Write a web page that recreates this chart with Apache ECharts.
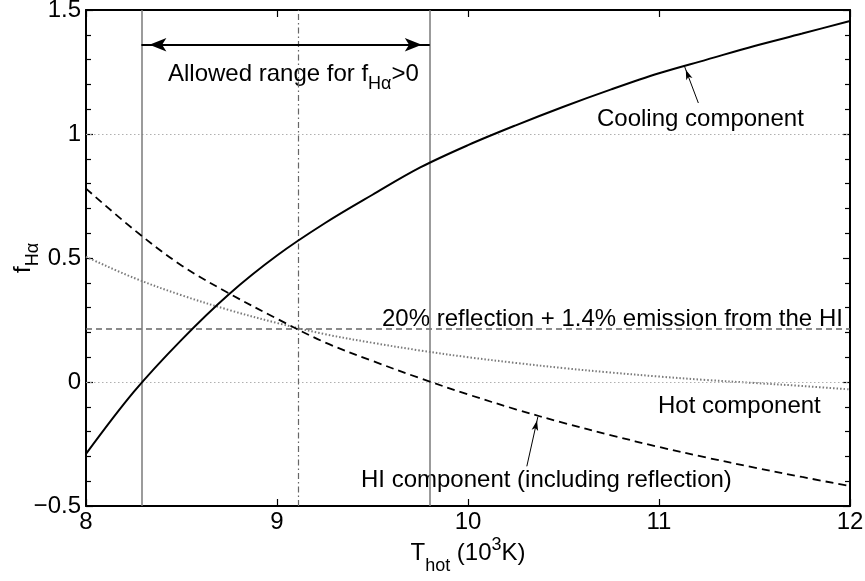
<!DOCTYPE html>
<html><head><meta charset="utf-8">
<script src="https://cdn.jsdelivr.net/npm/echarts@6/dist/echarts.min.js"></script>
<style>html,body{margin:0;padding:0;background:#fff}#c{width:865px;height:581px}</style>
</head><body><div id="c"></div>
<script>
// ---- data ----
const T = [8.00, 8.25, 8.50, 8.75, 9.00, 9.25, 9.50, 9.75, 10.00, 10.25, 10.50, 10.75, 11.00, 11.25, 11.50, 11.75, 12.00];
const cooling = [-0.29, -0.04, 0.17, 0.355, 0.51, 0.64, 0.755, 0.865, 0.955, 1.035, 1.11, 1.18, 1.245, 1.30, 1.355, 1.405, 1.456];
const hiComp  = [0.78, 0.615, 0.47, 0.357, 0.255, 0.16, 0.085, 0.015, -0.05, -0.11, -0.165, -0.215, -0.262, -0.305, -0.345, -0.383, -0.42];
const hotComp = [0.505, 0.42, 0.35, 0.29, 0.238, 0.193, 0.158, 0.127, 0.10, 0.077, 0.056, 0.038, 0.022, 0.008, -0.004, -0.016, -0.03];
const allowedRange = [8.29, 9.80];
const crossT = 9.11;
const reflectionLevel = 0.215;
const gridLevels = [0, 1];
const arrowLevel = 1.36;
const xTicks = [8, 9, 10, 11, 12];
const yTicks = [-0.5, 0, 0.5, 1, 1.5];

const FONT = "'Liberation Sans', Arial, Helvetica, sans-serif";
const FS = 24;
const SFS = 18;
const chart = echarts.init(document.getElementById('c'), null, {renderer: 'canvas'});

const pairs = arr => T.map((t, i) => [t, arr[i]]);
const fmtNum = v => String(v).replace('-', '\u2212');

const markLines = [];
// gridlines at 0 and 1
gridLevels.forEach(g => markLines.push([
  {coord: [xTicks[0], g], symbol: 'none', lineStyle: {color: '#b0b0b0', width: 1, type: [1.5, 2.5]}},
  {coord: [xTicks[xTicks.length - 1], g], symbol: 'none'}
]));
// reflection level
markLines.push([
  {coord: [xTicks[0], reflectionLevel], symbol: 'none', lineStyle: {color: '#666', width: 1.5, type: [6, 4]}},
  {coord: [xTicks[xTicks.length - 1], reflectionLevel], symbol: 'none'}
]);
// allowed range verticals
allowedRange.forEach(t => markLines.push([
  {coord: [t, yTicks[0]], symbol: 'none', lineStyle: {color: '#7a7a7a', width: 1.5, type: 'solid'}},
  {coord: [t, yTicks[yTicks.length - 1]], symbol: 'none'}
]));
// crossing dash-dot
markLines.push([
  {coord: [crossT, yTicks[0]], symbol: 'none', lineStyle: {color: '#666', width: 1.2, type: [6, 3, 1.5, 3]}},
  {coord: [crossT, yTicks[yTicks.length - 1]], symbol: 'none'}
]);
// double arrow
markLines.push([
  {coord: [allowedRange[0], arrowLevel], symbol: 'arrow', symbolSize: [10, 17], symbolOffset: [0, 8], lineStyle: {color: '#000', width: 2, type: 'solid'}},
  {coord: [allowedRange[1], arrowLevel], symbol: 'arrow', symbolSize: [10, 17], symbolOffset: [0, 8]}
]);
// annotation arrows
markLines.push([
  {coord: [11.206, 1.125], symbol: 'none', lineStyle: {color: '#000', width: 1, type: 'solid'}},
  {coord: [11.133, 1.274], symbol: 'arrow', symbolSize: [5, 10], symbolOffset: [0, 4]}
]);
markLines.push([
  {coord: [10.308, -0.34], symbol: 'none', lineStyle: {color: '#000', width: 1, type: 'solid'}},
  {coord: [10.366, -0.14], symbol: 'arrow', symbolSize: [5, 10], symbolOffset: [0, 4]}
]);

const richSub = {
  m: {fontSize: FS, fontFamily: FONT, color: '#000', lineHeight: 26, verticalAlign: 'middle'},
  s: {fontSize: SFS, fontFamily: FONT, color: '#000', lineHeight: 26, verticalAlign: 'top', padding: [14, 0, 0, 0]}
};
const txt = (s, x, y) => ({type: 'text', x, y, silent: true,
  style: {text: s, font: FS + 'px ' + FONT, fill: '#000', align: 'left', verticalAlign: 'middle'}});

const option = {
  animation: false,
  backgroundColor: '#fff',
  grid: {left: 86, right: 15, top: 10, bottom: 75, outerBoundsMode: 'none', containLabel: false},
  xAxis: [{
    type: 'value', min: 8, max: 12, interval: 1, position: 'bottom',
    axisLine: {show: true, onZero: false, lineStyle: {color: '#000', width: 2}},
    axisTick: {show: true, inside: true, length: 7, lineStyle: {color: '#000', width: 1.2}},
    axisLabel: {show: true, margin: 4, fontSize: FS, fontFamily: FONT, color: '#000', formatter: fmtNum},
    splitLine: {show: false},
    name: '{m|T}{s|hot}{m| (10}{p|3}{m|K)}',
    nameLocation: 'middle', nameGap: 29, nameMoveOverlap: false,
    nameTextStyle: {
      fontSize: FS, fontFamily: FONT, color: '#000',
      rich: {
        m: {fontSize: FS, fontFamily: FONT, color: '#000', lineHeight: 36, verticalAlign: 'middle'},
        s: {fontSize: SFS, fontFamily: FONT, color: '#000', lineHeight: 36, verticalAlign: 'top', padding: [22, 0, 0, 0]},
        p: {fontSize: SFS, fontFamily: FONT, color: '#000', lineHeight: 36, verticalAlign: 'top', padding: [1, 0, 0, 0]}
      }
    }
  }, {
    type: 'value', min: 8, max: 12, interval: 1, position: 'top',
    axisLine: {show: true, onZero: false, lineStyle: {color: '#000', width: 2}},
    axisTick: {show: true, inside: true, length: 7, lineStyle: {color: '#000', width: 1.2}},
    axisLabel: {show: false}, splitLine: {show: false}
  }],
  yAxis: [{
    type: 'value', min: -0.5, max: 1.5, interval: 0.5, position: 'left',
    axisLine: {show: true, onZero: false, lineStyle: {color: '#000', width: 2}},
    axisTick: {show: true, inside: true, length: 7, lineStyle: {color: '#000', width: 1.2}},
    minorTick: {show: true, splitNumber: 5, length: 5, lineStyle: {color: '#000', width: 1.2}},
    axisLabel: {show: true, margin: 5, fontSize: FS, fontFamily: FONT, color: '#000', formatter: fmtNum},
    splitLine: {show: false}, minorSplitLine: {show: false},
    name: '{m|f}{s|H\u03b1}',
    nameLocation: 'middle', nameRotate: 90, nameGap: 50, nameMoveOverlap: false,
    nameTextStyle: {fontSize: FS, fontFamily: FONT, color: '#000', rich: richSub}
  }, {
    type: 'value', min: -0.5, max: 1.5, interval: 0.5, position: 'right',
    axisLine: {show: true, onZero: false, lineStyle: {color: '#000', width: 2}},
    axisTick: {show: true, inside: true, length: 7, lineStyle: {color: '#000', width: 1.2}},
    minorTick: {show: true, splitNumber: 5, length: 5, lineStyle: {color: '#000', width: 1.2}},
    axisLabel: {show: false}, splitLine: {show: false}
  }],
  series: [{
    name: 'Cooling component', type: 'line', data: pairs(cooling), smooth: 0.35,
    showSymbol: false, symbol: 'none', silent: true,
    lineStyle: {color: '#000', width: 2},
    markLine: {silent: true, symbol: 'none', label: {show: false}, emphasis: {disabled: true}, data: markLines},
    z: 5
  }, {
    name: 'Hot component', type: 'line', data: pairs(hotComp), smooth: 0.35,
    showSymbol: false, symbol: 'none', silent: true,
    lineStyle: {color: '#7a7a7a', width: 2, type: [1.5, 2]}, z: 4
  }, {
    name: 'HI component (including reflection)', type: 'line', data: pairs(hiComp), smooth: 0.35,
    showSymbol: false, symbol: 'none', silent: true,
    lineStyle: {color: '#000', width: 1.8, type: [8, 5]}, z: 5
  }],
  graphic: [
    {type: 'text', x: 168, y: 74, silent: true, style: {text: '{m|Allowed range for f}{s|H\u03b1}{m|>0}', rich: richSub, align: 'left', verticalAlign: 'middle'}},
    txt('Cooling component', 597, 119),
    txt('20% reflection + 1.4% emission from the HI', 382, 319),
    txt('Hot component', 658, 406),
    txt('HI component (including reflection)', 361, 480)
  ]
};
chart.setOption(option);
</script></body></html>
